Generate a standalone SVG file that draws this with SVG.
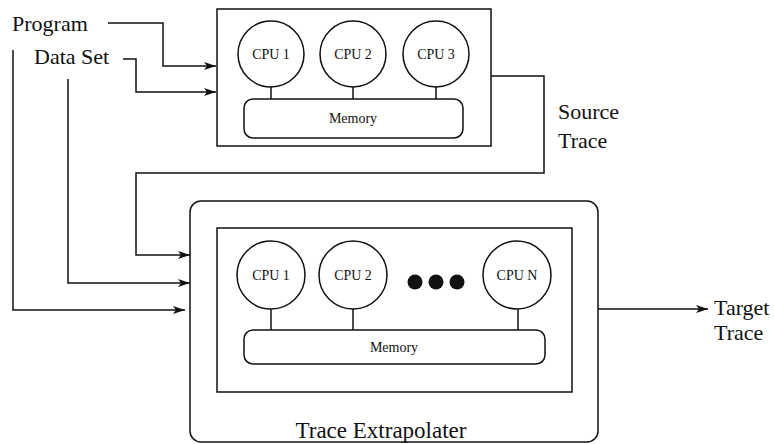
<svg xmlns="http://www.w3.org/2000/svg" width="774" height="444" viewBox="0 0 774 444">
<style>
.ln{fill:none;stroke:#111;stroke-width:1.5}
.bx{fill:#fff;stroke:#111;stroke-width:1.5}
.t{font-family:"Liberation Serif","Times New Roman",serif;fill:#111}
.big{font-size:22px}
.cpu{font-size:14px;text-anchor:middle}
.mem{font-size:14px;text-anchor:middle}
</style>
<defs>
<marker id="ah" viewBox="0 0 12 8" refX="12" refY="4" markerWidth="12" markerHeight="8" markerUnits="userSpaceOnUse" orient="auto">
<path d="M0,0 L12,4 L0,8 L3,4 Z" fill="#111"/>
</marker>
</defs>
<rect width="774" height="444" fill="#fff"/>
<g id="connectors">
<polyline class="ln" points="108,23 163,23 163,66 216,66" marker-end="url(#ah)"/>
<polyline class="ln" points="123,59 136,59 136,92 216,92" marker-end="url(#ah)"/>
<polyline class="ln" points="13,50 13,310 185,310" marker-end="url(#ah)"/>
<polyline class="ln" points="68,79 68,283 190,283" marker-end="url(#ah)"/>
<polyline class="ln" points="491,76 544,76 544,173 136,173 136,255 190,255" marker-end="url(#ah)"/>
<polyline class="ln" points="598,309 708,309" marker-end="url(#ah)"/>
</g>
<g id="labels">
<text class="t big" x="12" y="31">Program</text>
<text class="t big" x="34" y="64">Data Set</text>
<text class="t big" x="558" y="119">Source</text>
<text class="t big" x="558" y="148">Trace</text>
<text class="t big" x="714" y="315">Target</text>
<text class="t big" x="714" y="340">Trace</text>
</g>
<g id="source-machine">
<rect class="bx" x="217" y="9" width="274" height="137"/>
<line class="ln" x1="271" y1="87" x2="271" y2="99"/>
<line class="ln" x1="353" y1="87" x2="353" y2="99"/>
<line class="ln" x1="436" y1="87" x2="436" y2="99"/>
<g id="src-cpu1"><circle class="bx" cx="271" cy="54" r="33"/><text class="t cpu" x="271" y="59">CPU 1</text></g>
<g id="src-cpu2"><circle class="bx" cx="353" cy="54" r="33"/><text class="t cpu" x="353" y="59">CPU 2</text></g>
<g id="src-cpu3"><circle class="bx" cx="436" cy="54" r="33"/><text class="t cpu" x="436" y="59">CPU 3</text></g>
<g id="src-memory"><rect class="bx" x="244" y="99" width="219" height="39" rx="9"/><text class="t mem" x="353" y="123">Memory</text></g>
</g>
<g id="trace-extrapolater">
<rect class="bx" x="190" y="201" width="408" height="241" rx="11"/>
<text class="t" x="381" y="438" font-size="23" text-anchor="middle">Trace Extrapolater</text>
<rect class="bx" x="217" y="228" width="355" height="164"/>
<line class="ln" x1="271" y1="308" x2="271" y2="330"/>
<line class="ln" x1="353" y1="308" x2="353" y2="330"/>
<line class="ln" x1="518" y1="308" x2="518" y2="330"/>
<g id="te-cpu1"><circle class="bx" cx="271" cy="275" r="34"/><text class="t cpu" x="271" y="280">CPU 1</text></g>
<g id="te-cpu2"><circle class="bx" cx="353" cy="275" r="34"/><text class="t cpu" x="353" y="280">CPU 2</text></g>
<g id="te-dots"><circle cx="415" cy="282" r="7.5" fill="#111"/><circle cx="436" cy="282" r="7.5" fill="#111"/><circle cx="457" cy="282" r="7.5" fill="#111"/></g>
<g id="te-cpun"><circle class="bx" cx="517" cy="275" r="34"/><text class="t cpu" x="517" y="280">CPU N</text></g>
<g id="te-memory"><rect class="bx" x="244" y="330" width="301" height="34" rx="9"/><text class="t mem" x="394" y="352">Memory</text></g>
</g>
</svg>
